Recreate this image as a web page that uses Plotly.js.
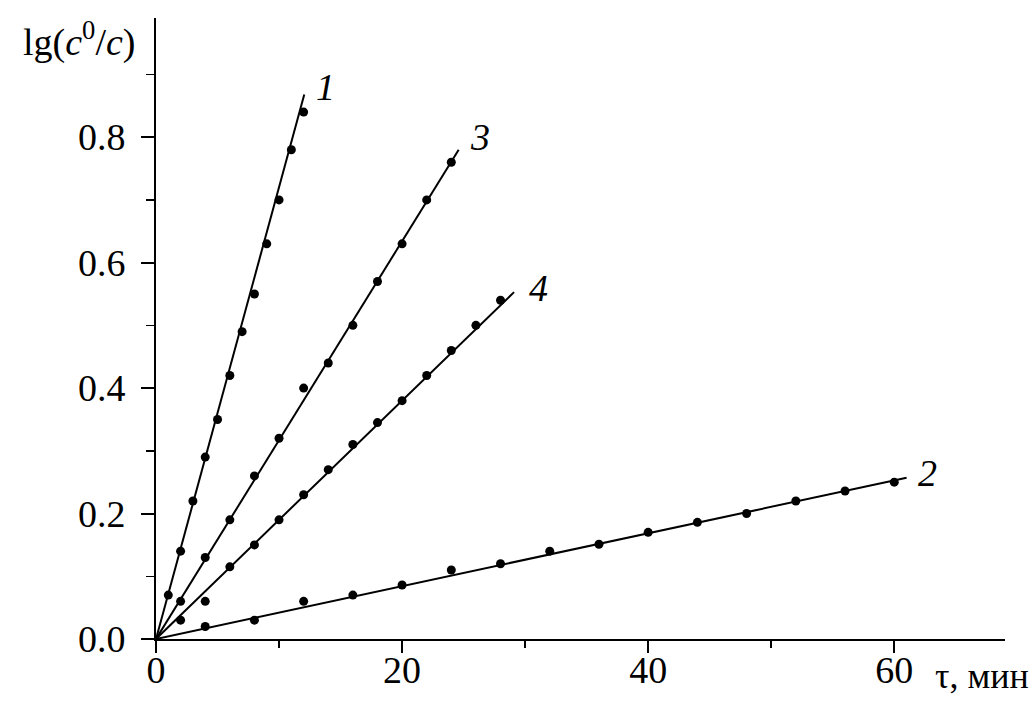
<!DOCTYPE html>
<html>
<head>
<meta charset="utf-8">
<script src="https://cdn.plot.ly/plotly-3.0.1.min.js"></script>
<style>html,body{margin:0;padding:0;background:#fff;}#chart{width:1033px;height:728px;}</style>
</head>
<body>
<div id="chart"></div>
<script>
// Data
const x1 = [1, 2, 3, 4, 5, 6, 7, 8, 9, 10, 11, 12];
const y1 = [0.07, 0.14, 0.22, 0.29, 0.35, 0.42, 0.49, 0.55, 0.63, 0.70, 0.78, 0.84];
const x3 = [2, 4, 6, 8, 10, 12, 14, 16, 18, 20, 22, 24];
const y3 = [0.06, 0.13, 0.19, 0.26, 0.32, 0.40, 0.44, 0.50, 0.57, 0.63, 0.70, 0.76];
const x4 = [2, 4, 6, 8, 10, 12, 14, 16, 18, 20, 22, 24, 26, 28];
const y4 = [0.03, 0.06, 0.115, 0.15, 0.19, 0.23, 0.27, 0.31, 0.345, 0.38, 0.42, 0.46, 0.50, 0.54];
const x2 = [4, 8, 12, 16, 20, 24, 28, 32, 36, 40, 44, 48, 52, 56, 60];
const y2 = [0.02, 0.03, 0.06, 0.07, 0.086, 0.11, 0.12, 0.14, 0.151, 0.17, 0.186, 0.20, 0.22, 0.236, 0.25];
// Fitted straight lines (start and end points)
const fit1X = [0, 12.05], fit1Y = [0, 0.868];
const fit3X = [0, 24.6],  fit3Y = [0, 0.78];
const fit4X = [0, 29.1],  fit4Y = [0, 0.553];
const fit2X = [0, 61.0],  fit2Y = [0, 0.257];
// Curve labels
const labelText = ['1', '3', '4', '2'];
const labelX = [13.8, 26.3, 31.1, 62.7];
const labelY = [0.88, 0.80, 0.559, 0.264];
const xTicks = [0, 20, 40, 60];
const yTicks = [0, 0.2, 0.4, 0.6, 0.8];
const yTickText = ['0.0', '0.2', '0.4', '0.6', '0.8'];

const FONT = '"Liberation Serif", "Times New Roman", serif';
const FS = 38;
const lineStyle = {color: 'black', width: 2};
const mk = {color: 'black', size: 9};

function pts(x, y) { return {x: x, y: y, mode: 'markers', type: 'scatter', marker: mk, cliponaxis: false, showlegend: false, hoverinfo: 'x+y'}; }
function fit(x, y) { return {x: x, y: y, mode: 'lines', type: 'scatter', line: lineStyle, cliponaxis: false, showlegend: false, hoverinfo: 'skip'}; }

const data = [
  fit(fit1X, fit1Y), fit(fit3X, fit3Y), fit(fit4X, fit4Y), fit(fit2X, fit2Y),
  pts(x1, y1), pts(x3, y3), pts(x4, y4), pts(x2, y2)
];

const annotations = labelText.map((t, i) => ({
  x: labelX[i], y: labelY[i], xref: 'x', yref: 'y', text: '<i>' + t + '</i>',
  showarrow: false, font: {family: FONT, size: FS, color: 'black'}
}));
annotations.push({
  x: -0.022, y: 0.965, xref: 'paper', yref: 'paper', xanchor: 'right', yanchor: 'middle',
  text: 'lg(<i>c</i><sup>0</sup>/<i>c</i>)', showarrow: false,
  font: {family: FONT, size: FS, color: 'black'}
});
annotations.push({
  x: 1.031, y: -0.0596, xref: 'paper', yref: 'paper', xanchor: 'right', yanchor: 'middle',
  text: 'τ, мин', showarrow: false,
  font: {family: FONT, size: 36, color: 'black'}
});

const layout = {
  width: 1033, height: 728,
  margin: {l: 156, r: 28, t: 18, b: 89, pad: 0},
  paper_bgcolor: 'white', plot_bgcolor: 'white',
  font: {family: FONT, size: FS, color: 'black'},
  showlegend: false,
  xaxis: {
    range: [0, 69], showgrid: false, zeroline: false,
    showline: true, linecolor: 'black', linewidth: 2,
    ticks: 'outside', ticklen: 12, tickwidth: 2, tickcolor: 'black',
    tickvals: xTicks, ticktext: xTicks.map(String),
    ticklabelstandoff: -16,
    minor: {dtick: 10, tick0: 0, ticks: 'outside', ticklen: 7, tickwidth: 1.5, tickcolor: 'black'},
    tickfont: {family: FONT, size: FS, color: 'black'}
  },
  yaxis: {
    range: [0, 0.99], showgrid: false, zeroline: false,
    showline: true, linecolor: 'black', linewidth: 2,
    ticks: 'outside', ticklen: 13, tickwidth: 2, tickcolor: 'black',
    tickvals: yTicks, ticktext: yTickText,
    ticklabelstandoff: 8,
    minor: {dtick: 0.1, tick0: 0, ticks: 'outside', ticklen: 8, tickwidth: 1.5, tickcolor: 'black'},
    tickfont: {family: FONT, size: FS, color: 'black'}
  },
  annotations: annotations
};

Plotly.newPlot('chart', data, layout, {displayModeBar: false, staticPlot: true});
</script>
</body>
</html>
